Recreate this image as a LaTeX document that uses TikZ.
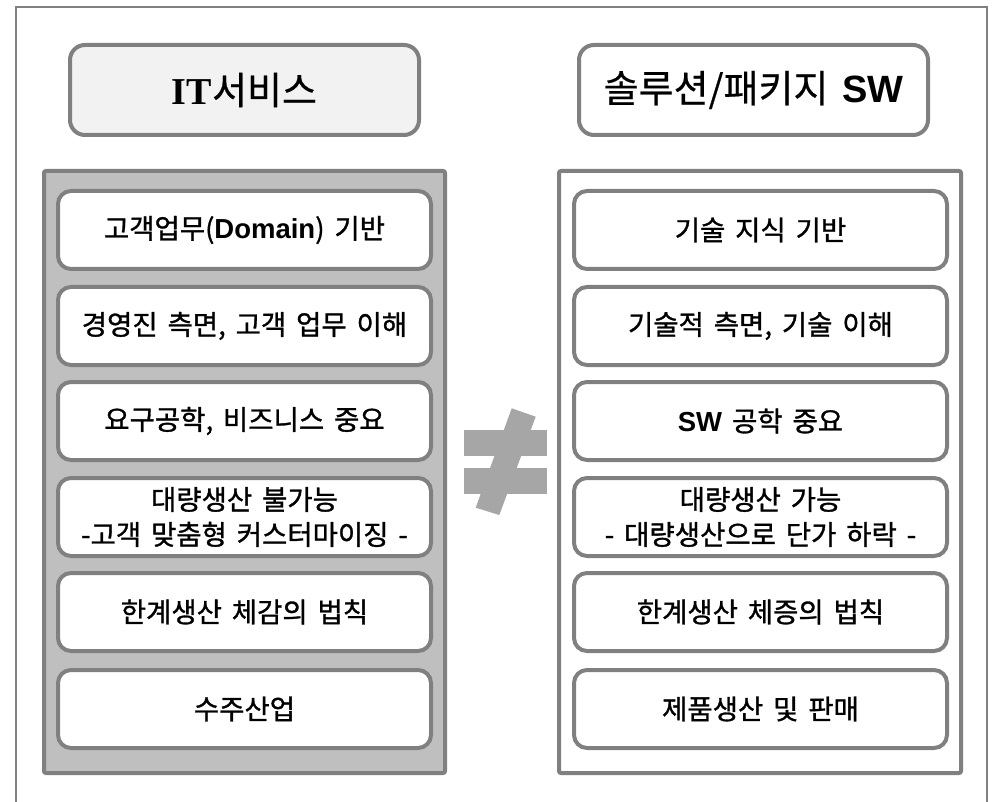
\documentclass[tikz,border=0pt]{standalone}
\usepackage{fontspec}
\setmainfont{Noto Sans CJK KR}[FakeBold=1.1, WordSpace=1.6]
\newfontfamily\ttlfont{Noto Sans CJK KR}[FakeBold=0.5, WordSpace=1.6]
\newfontfamily\lat{Liberation Sans}[WordSpace=1.6]
\newfontfamily\serifb{Liberation Serif}
\definecolor{edge}{HTML}{808080}
\definecolor{panelgray}{HTML}{BFBFBF}
\definecolor{titlefill}{HTML}{F2F2F2}
\definecolor{neq}{HTML}{A6A6A6}
\tikzset{
  panel/.style={draw=edge, line width=4pt, rounded corners=2pt},
  titlebox/.style={draw=edge, line width=4pt, rounded corners=15pt, minimum width=349pt, minimum height=90pt, font=\ttlfont\fontsize{38}{44}\selectfont, inner sep=0pt},
  rowbox/.style={draw=edge, line width=4pt, fill=white, rounded corners=13pt, minimum width=373pt, minimum height=78pt, font=\fontsize{27.5}{35}\selectfont, align=center, inner sep=0pt},
}
\begin{document}
\begin{tikzpicture}[x=1pt,y=-1pt]
\useasboundingbox (0,0) rectangle (996,802);
\fill[white] (0,0) rectangle (996,802);
% outer frame
\draw[edge, line width=1.6pt] (16,802) -- (16,7) -- (987,7) -- (987,802);
% titles
\node[titlebox, fill=titlefill] (t1) at (244.5,90) {{\serifb\bfseries IT}서비스};
\node[titlebox, fill=white] (t2) at (753.5,90) {솔루션/패키지 {\lat\bfseries SW}};
% panels
\draw[panel, fill=panelgray] (44,171) rectangle (445,773);
\draw[panel, fill=white] (559,171) rectangle (961,773);
% left rows
\node[rowbox] (l1) at (244.5,230) {고객업무({\lat\bfseries Domain}) 기반};
\node[rowbox] (l2) at (244.5,326) {경영진 측면, 고객 업무 이해};
\node[rowbox] (l3) at (244.5,421) {요구공학, 비즈니스 중요};
\node[rowbox] (l4) at (244.5,517) {대량생산 불가능\\-고객 맞춤형 커스터마이징 -};
\node[rowbox] (l5) at (244.5,612) {한계생산 체감의 법칙};
\node[rowbox] (l6) at (244.5,709) {수주산업};
% right rows
\node[rowbox] (r1) at (760.5,230) {기술 지식 기반};
\node[rowbox] (r2) at (760.5,326) {기술적 측면, 기술 이해};
\node[rowbox] (r3) at (760.5,421) {{\lat\bfseries SW} 공학 중요};
\node[rowbox] (r4) at (760.5,517) {대량생산 가능\\- 대량생산으로 단가 하락 -};
\node[rowbox] (r5) at (760.5,612) {한계생산 체증의 법칙};
\node[rowbox] (r6) at (760.5,709) {제품생산 및 판매};
% not-equal sign
\fill[neq] (464,430) rectangle (547,456);
\fill[neq] (464,468) rectangle (547,494);
\fill[neq] (511.7,408.3) -- (535.7,416.7) -- (499.3,515) -- (475.7,507.7) -- cycle;
\end{tikzpicture}
\end{document}
